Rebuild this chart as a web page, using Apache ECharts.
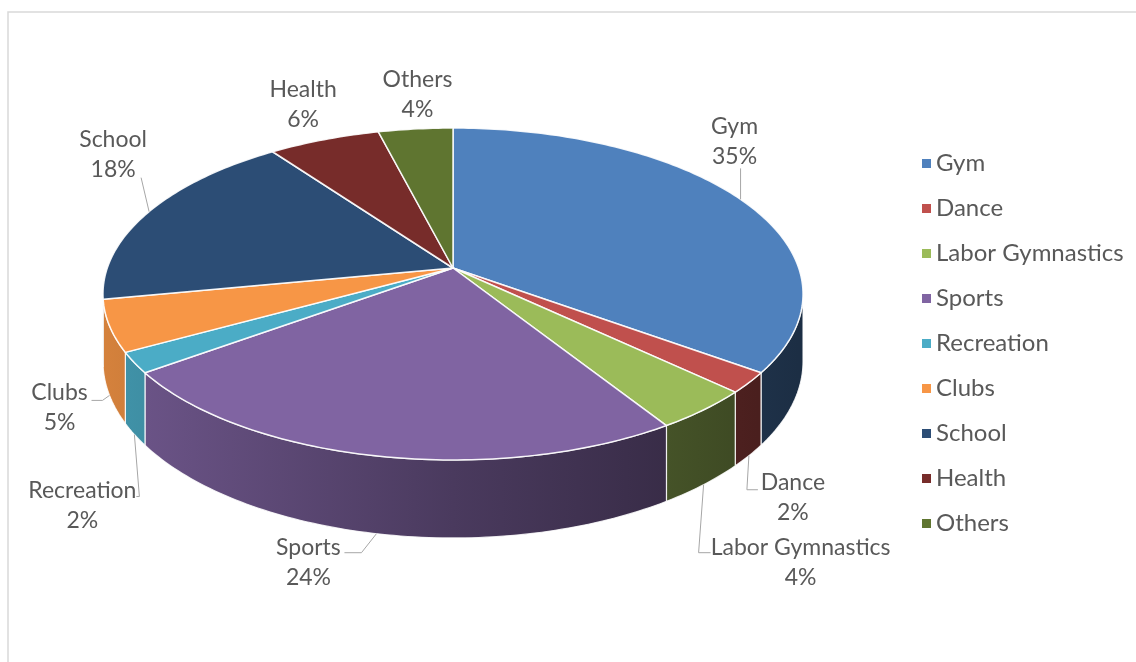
<!DOCTYPE html>
<html>
<head>
<meta charset="utf-8">
<script src="https://cdn.jsdelivr.net/npm/echarts@6/dist/echarts.min.js"></script>
<style>
  html, body { margin: 0; padding: 0; background: #ffffff; }
  #chart { width: 1136px; height: 662px; }
</style>
</head>
<body>
<div id="chart"></div>
<script>
// Activity categories and their shares (%)
const categories = ['Gym', 'Dance', 'Labor Gymnastics', 'Sports', 'Recreation', 'Clubs', 'School', 'Health', 'Others'];
const shares = [35, 2, 4, 24, 2, 5, 18, 6, 4];
const colors = ['#4f81bd', '#c0504d', '#9bbb59', '#8064a2', '#4bacc6', '#f79646', '#2c4d75', '#772c2a', '#5f7530'];

// Label placement per slice: offset of the text block from the slice anchor,
// and the bend points of the leader line (relative to the anchor).
const labelLayout = [
  { dx: -6,  dy: -58, leader: [[0, -31]] },
  { dx: 44,  dy: 42,  leader: [[-2, 34], [9, 34]] },
  { dx: 97,  dy: 78,  leader: [[-5, 68], [7, 68]] },
  { dx: -68, dy: 29,  leader: [[-15, 19], [-32, 19]] },
  { dx: -52, dy: 71,  leader: [[5, 62], [2, 62]] },
  { dx: -50, dy: 12,  leader: [[-7, 5], [-18, 5]] },
  { dx: -36, dy: -57, leader: [[-8, -34]] },
  { dx: -21, dy: -35, leader: null },
  { dx: 2,   dy: -34, leader: null }
];

// Tilted disc geometry (simple perspective: nearer points appear larger)
const PIE = { cx: 453, cy: 268, rx: 345.7, ry: 161.9, k: 0.1566, depth: 65.8 };
const FONT = 'Lato, "Open Sans", sans-serif';
const TEXT_COLOR = '#595959';

const total = shares.reduce((a, b) => a + b, 0);
const TAU = Math.PI * 2;
const visFrom = Math.acos(-PIE.k);      // right silhouette of the rim
const visTo = TAU - visFrom;            // left silhouette of the rim

function project(theta, down) {
  const u = Math.sin(theta), v = -Math.cos(theta);
  const den = 1 - PIE.k * v;
  return [PIE.cx + PIE.rx * u / den, PIE.cy + (PIE.ry * v + down * PIE.depth) / den];
}

function arc(a0, a1, down) {
  const n = Math.max(2, Math.ceil(Math.abs(a1 - a0) / (Math.PI / 180)));
  const pts = [];
  for (let i = 0; i <= n; i++) pts.push(project(a0 + (a1 - a0) * i / n, down));
  return pts;
}

function shade(hex, f) {
  const n = parseInt(hex.slice(1), 16);
  const r = Math.round(((n >> 16) & 255) * f);
  const g = Math.round(((n >> 8) & 255) * f);
  const b = Math.round((n & 255) * f);
  return 'rgb(' + r + ',' + g + ',' + b + ')';
}

function renderSlice(params, api) {
  const idx = api.value(0);
  const val = api.value(1);
  let before = 0;
  for (let i = 0; i < idx; i++) before += shares[i];
  const start = before / total * TAU;
  const end = start + val / total * TAU;
  const color = colors[idx];
  const children = [];

  // outer wall, only where it faces the viewer
  const a0 = Math.max(start, visFrom), a1 = Math.min(end, visTo);
  if (a1 > a0) {
    const pts = arc(a0, a1, 0).concat(arc(a1, a0, 1));
    children.push({
      type: 'polygon',
      z2: 1,
      shape: { points: pts },
      style: {
        fill: new echarts.graphic.LinearGradient(PIE.cx - PIE.rx, 0, PIE.cx + PIE.rx, 0, [
          { offset: 0, color: shade(color, 0.86) },
          { offset: 0.5, color: shade(color, 0.58) },
          { offset: 1, color: shade(color, 0.36) }
        ], true),
        stroke: 'rgba(255,255,255,0.85)',
        lineWidth: 1.2
      }
    });
  }

  // top face
  const topPts = [[PIE.cx, PIE.cy]].concat(arc(start, end, 0));
  children.push({
    type: 'polygon',
    z2: 10,
    shape: { points: topPts },
    style: { fill: color, stroke: 'rgba(255,255,255,0.9)', lineWidth: 1.5, lineJoin: 'round' }
  });

  // data label with optional leader line
  const mid = (start + end) / 2;
  const front = mid > visFrom && mid < visTo;
  const anchor = project(mid, front ? 1 : 0);
  const lay = labelLayout[idx];
  if (lay.leader) {
    const pts = [anchor].concat(lay.leader.map(p => [anchor[0] + p[0], anchor[1] + p[1]]));
    children.push({
      type: 'polyline',
      z2: 20,
      shape: { points: pts },
      style: { stroke: '#a6a6a6', lineWidth: 1, fill: null }
    });
  }
  children.push({
    type: 'text',
    z2: 21,
    x: anchor[0] + lay.dx,
    y: anchor[1] + lay.dy,
    style: {
      text: categories[idx] + '\n' + Math.round(val / total * 100) + '%',
      fill: TEXT_COLOR,
      fontFamily: FONT,
      fontSize: 23,
      lineHeight: 30,
      align: 'center',
      verticalAlign: 'middle'
    }
  });

  return { type: 'group', children: children };
}

const chart = echarts.init(document.getElementById('chart'), null, { renderer: 'canvas' });
chart.setOption({
  animation: false,
  color: colors,
  graphic: [{
    type: 'rect',
    silent: true,
    shape: { x: 8, y: 12, width: 1200, height: 720 },
    style: { fill: 'none', stroke: '#d9d9d9', lineWidth: 1.5 }
  }],
  legend: {
    orient: 'vertical',
    left: 917,
    top: 146,
    icon: 'rect',
    itemWidth: 9,
    itemHeight: 9,
    itemGap: 20,
    selectedMode: false,
    data: categories,
    textStyle: { fontFamily: FONT, fontSize: 24, color: TEXT_COLOR, lineHeight: 25 }
  },
  series: categories.map((name, i) => ({
    type: 'custom',
    name: name,
    coordinateSystem: 'none',
    itemStyle: { color: colors[i] },
    data: [[i, shares[i]]],
    renderItem: renderSlice
  }))
});
</script>
</body>
</html>
